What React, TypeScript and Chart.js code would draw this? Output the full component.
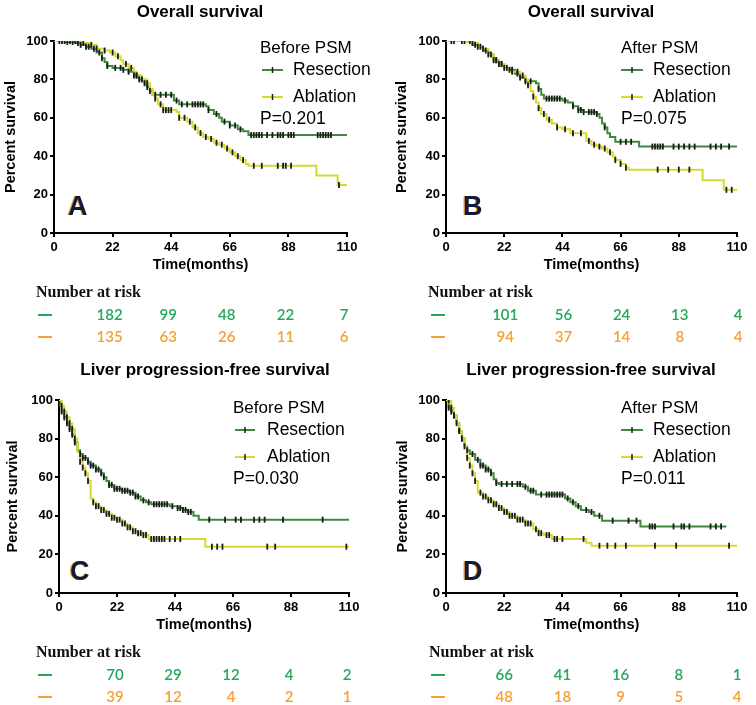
import React, { useEffect, useRef } from "react";
import { Chart, registerables } from "chart.js";
Chart.register(...registerables);

type Pt = [number, number];

// ---------- shared ----------
const timeTicks = [0, 22, 44, 66, 88, 110];
const riskTimes = [22, 44, 66, 88, 110];
const seriesNames = ["Resection", "Ablation"];

// ---------- Panel A : Overall survival, before PSM ----------
const A_title = "Overall survival";
const A_group = "Before PSM";
const A_p = "P=0.201";
const A_resection: Pt[] = [[0,100],[4,99.5],[8,99],[10,98],[12,97],[14,96],[16,94],[18,91],[19,89],[20,87],[22,86],[26,85],[28,84],[30,82],[32,80],[34,78],[35,76],[36,74],[37,72],[45,69],[47,67],[57,66],[58,64],[60,62],[62,60],[63,58],[66,56],[69,54],[71,53],[73,51],[110,51]];
const A_ablation: Pt[] = [[0,100],[8,100],[10,99],[13,98],[16,96],[19,95],[21,94],[23,92],[25,90],[26,88],[28,86],[30,84],[31,82],[33,80],[35,78],[36,75],[37,72],[38,70],[39,67],[41,64],[46,63],[47,60],[50,58],[52,55],[54,52],[56,50],[58,49],[60,47],[62,46],[64,44],[66,42],[68,40],[70,38],[72,36],[73,35],[98.5,30],[106.5,25],[110,25]];
const A_resCensor = [3,5,7,9,10,12,13,15,17,18,20,23,25,26,28,30,31,32,34,35,36,38,40,42,44,46,48,50,52,53,54,55,56,58,61,64,66,68,70,74,75,76,77,78,80,82,84,85,86,88,89,90,99,100,101,102,103,104];
const A_ablCensor = [2,4,6,8,11,14,16,19,22,24,27,29,31,33,35,38,40,41,42,43,44,47,49,51,53,55,57,59,61,63,65,67,69,71,75,78,84,86,87,89,107];
const A_riskRes = [182, 99, 48, 22, 7];
const A_riskAbl = [135, 63, 26, 11, 6];

// ---------- Panel B : Overall survival, after PSM ----------
const B_title = "Overall survival";
const B_group = "After PSM";
const B_p = "P=0.075";
const B_resection: Pt[] = [[0,100],[8,100],[10,98],[12,97],[14,95],[16,93],[18,90],[20,88],[22,86],[24,85],[26,83],[28,81],[30,79],[34,78],[35,75],[36,72],[37,70],[44,69],[46,68],[48,66],[50,64],[52,63],[57,62],[58,60],[59,57],[60,55],[61,52],[62,50],[64,47.5],[73,45],[110,45]];
const B_ablation: Pt[] = [[0,100],[8,99.5],[10,99],[12,97],[14,96],[16,93],[18,90],[20,88],[22,86],[25,84],[28,82],[30,80],[31,77],[32,74],[33,71],[34,68],[35,65],[36,62],[38,59],[40,57],[42,55],[44,54],[47,52],[53,48],[55,46],[57,45],[59,44],[61,42],[63,40],[64,38],[66,36],[68,34],[69,33],[97,27.5],[105,22.5],[110,22.5]];
const B_resCensor = [2,6,9,11,13,15,16,18,19,20,21,22,24,25,27,28,30,32,35,38,39,40,41,42,43,45,48,50,51,52,54,55,56,57,60,66,68,70,78,79,80,81,82,86,88,90,92,94,100,102,104,107];
const B_ablCensor = [3,7,10,12,14,17,19,21,23,25,27,29,31,33,35,37,39,42,45,48,51,54,56,58,60,62,64,66,68,80,84,88,92,106,108];
const B_riskRes = [101, 56, 24, 13, 4];
const B_riskAbl = [94, 37, 14, 8, 4];

// ---------- Panel C : Liver PFS, before PSM ----------
const C_title = "Liver progression-free survival";
const C_group = "Before PSM";
const C_p = "P=0.030";
const C_resection: Pt[] = [[0,100],[0.5,97],[1,94],[2,91],[3,88],[4,85],[5,82],[6,78],[7,74],[8,72],[9,70],[11,68],[12,66],[14,64],[16,62],[17,60],[18,58],[19,56],[21,54],[24,53],[27,52],[29,50],[31,48],[33,47],[35,46],[42,45],[45,44],[47,43],[49,42],[51,40],[53,38],[110,38]];
const C_ablation: Pt[] = [[0,100],[1,97],[2,94],[3,91],[4,88],[5,85],[6,80],[7,73],[8,68],[9,65],[10,62],[11,58],[12,49],[13,47],[14,45],[16,43],[18,41],[20,39],[22,38],[24,36],[26,34],[28,32],[30,31],[32,30],[34,28],[55.5,24],[110,24]];
const C_resCensor = [1,2,3,4,5,6,8,9,10,11,12,13,14,15,16,17,19,20,21,22,23,24,25,26,27,28,29,30,32,34,36,37,38,39,40,41,43,45,46,47,48,49,50,57,63,67,69,74,76,78,85,100];
const C_ablCensor = [1,2,3,4,5,6,8,9,10,11,13,14,15,16,17,18,19,20,21,22,23,24,25,26,27,28,29,30,31,32,33,35,36,37,38,39,40,42,44,46,58,60,62,79,82,109];
const C_riskRes = [70, 29, 12, 4, 2];
const C_riskAbl = [39, 12, 4, 2, 1];

// ---------- Panel D : Liver PFS, after PSM ----------
const D_title = "Liver progression-free survival";
const D_group = "After PSM";
const D_p = "P=0.011";
const D_resection: Pt[] = [[0,100],[1,96],[2,94],[3,92],[4,88],[5,84],[6,80],[7,76],[8,74],[9,72],[11,69],[13,66],[15,64],[17,62],[18,59],[19,57],[20,56.5],[29,55],[31,53],[34,51],[45,49],[47,47],[49,45],[51,43],[54,42],[56,40],[59,37.5],[73.5,34.5],[106,34.5]];
const D_ablation: Pt[] = [[0,100],[2,96],[3,92],[4,88],[5,84],[6,80],[7,76],[8,70],[9,66],[10,62],[11,58],[12,52],[14,50],[16,48],[18,46],[20,44],[22,42],[24,40],[27,38],[30,36],[33,33],[35,31],[37,30],[40,28],[53,26],[55,24.5],[110,24.5]];
const D_resCensor = [1,2,3,5,6,8,10,12,13,14,15,16,17,19,21,23,25,27,28,30,32,33,36,38,39,40,41,42,43,44,46,48,50,53,55,58,63,69,72,77,78,79,86,89,90,92,100,102,104];
const D_ablCensor = [1,2,3,4,5,6,7,8,9,10,11,13,14,15,16,17,18,19,20,21,22,23,24,25,26,27,28,29,30,31,32,34,35,36,38,39,41,42,44,52,58,61,64,68,79,87,107];
const D_riskRes = [66, 41, 16, 8, 1];
const D_riskAbl = [48, 18, 9, 5, 4];

// ---------- styling ----------
const GREEN = "#3e8a3a";
const YELLOW = "#d6da30";
const CENSOR = "#1b1b1b";
const RISK_GREEN = "#22a85a";
const RISK_ORANGE = "#f6a032";
const SANS = '"Liberation Sans", Arial, sans-serif';

type Layout = {
  left: number; top: number; w: number; h: number;
  area: { l: number; t: number; r: number; b: number };
  titleX: number; titleY: number;
  legX: number; lineX0: number; lineX1: number; legTextX: number;
  letter: string; letterX: number; letterY: number;
  yTitleX: number; riskX: number; dashX: number; riskShift: number;
};

type Panel = {
  title: string; group: string; p: string;
  res: Pt[]; abl: Pt[]; resC: number[]; ablC: number[];
  riskRes: number[]; riskAbl: number[]; layout: Layout;
};

const panels: Panel[] = [
  { title: A_title, group: A_group, p: A_p, res: A_resection, abl: A_ablation, resC: A_resCensor, ablC: A_ablCensor, riskRes: A_riskRes, riskAbl: A_riskAbl,
    layout: { left: 0, top: 0, w: 378, h: 360, area: { l: 54, t: 41, r: 347, b: 233 }, titleX: 200, titleY: 12, legX: 260, lineX0: 262, lineX1: 283, legTextX: 293, letter: "A", letterX: 68, letterY: 208, yTitleX: 11, riskX: 36, dashX: 38, riskShift: -3 } },
  { title: B_title, group: B_group, p: B_p, res: B_resection, abl: B_ablation, resC: B_resCensor, ablC: B_ablCensor, riskRes: B_riskRes, riskAbl: B_riskAbl,
    layout: { left: 378, top: 0, w: 378, h: 360, area: { l: 68, t: 41, r: 359, b: 233 }, titleX: 213, titleY: 12, legX: 243, lineX0: 243, lineX1: 265, legTextX: 275, letter: "B", letterX: 85, letterY: 208, yTitleX: 24, riskX: 50, dashX: 53, riskShift: 1 } },
  { title: C_title, group: C_group, p: C_p, res: C_resection, abl: C_ablation, resC: C_resCensor, ablC: C_ablCensor, riskRes: C_riskRes, riskAbl: C_riskAbl,
    layout: { left: 0, top: 360, w: 378, h: 345, area: { l: 59, t: 40, r: 349, b: 233 }, titleX: 205, titleY: 10, legX: 233, lineX0: 235, lineX1: 255, legTextX: 267, letter: "C", letterX: 70, letterY: 213, yTitleX: 13, riskX: 36, dashX: 38, riskShift: -2 } },
  { title: D_title, group: D_group, p: D_p, res: D_resection, abl: D_ablation, resC: D_resCensor, ablC: D_ablCensor, riskRes: D_riskRes, riskAbl: D_riskAbl,
    layout: { left: 378, top: 360, w: 378, h: 345, area: { l: 68, t: 40, r: 359, b: 233 }, titleX: 213, titleY: 10, legX: 243, lineX0: 243, lineX1: 265, legTextX: 275, letter: "D", letterX: 85, letterY: 213, yTitleX: 25, riskX: 51, dashX: 53, riskShift: 0 } },
];

function survivalAt(curve: Pt[], t: number): number {
  let s = curve[0][1];
  for (const [x, y] of curve) {
    if (x <= t) s = y;
    else break;
  }
  return s;
}

function makeTextPlugin(pn: Panel) {
  const L = pn.layout;
  return {
    id: "panelText" + L.letter,
    afterDraw(chart: any) {
      const ctx: CanvasRenderingContext2D = chart.ctx;
      const ca = chart.chartArea;
      const xs = chart.scales.x;
      ctx.save();
      ctx.fillStyle = "#000";
      ctx.textBaseline = "middle";
      // title
      ctx.font = `bold 17px ${SANS}`;
      ctx.textAlign = "center";
      ctx.fillText(pn.title, L.titleX, L.titleY);
      // axis titles
      ctx.font = `bold 14.5px ${SANS}`;
      ctx.fillText("Time(months)", (ca.left + ca.right) / 2, 265);
      ctx.save();
      ctx.translate(L.yTitleX, (ca.top + ca.bottom) / 2);
      ctx.rotate(-Math.PI / 2);
      ctx.fillText("Percent survival", 0, 0);
      ctx.restore();
      // legend
      ctx.textAlign = "left";
      ctx.font = `17px ${SANS}`;
      ctx.fillText(pn.group, L.legX, 48);
      const rows: [string, string, number][] = [
        [seriesNames[0], GREEN, 70],
        [seriesNames[1], YELLOW, 97],
      ];
      for (const [name, col, y] of rows) {
        ctx.strokeStyle = col;
        ctx.lineWidth = 2;
        ctx.beginPath();
        ctx.moveTo(L.lineX0, y);
        ctx.lineTo(L.lineX1, y);
        ctx.stroke();
        ctx.strokeStyle = CENSOR;
        ctx.lineWidth = 1.5;
        const mx = (L.lineX0 + L.lineX1) / 2;
        ctx.beginPath();
        ctx.moveTo(mx, y - 3);
        ctx.lineTo(mx, y + 3);
        ctx.stroke();
        ctx.fillStyle = "#000";
        ctx.font = `17.5px ${SANS}`;
        ctx.fillText(name, L.legTextX, y);
      }
      ctx.font = `17.5px ${SANS}`;
      ctx.fillText(pn.p, L.legX, 119);
      // panel letter
      ctx.font = `bold 27px ${SANS}`;
      ctx.fillStyle = "#f0a030";
      ctx.fillText(L.letter, L.letterX - 1.2, L.letterY);
      ctx.fillStyle = "#101a3c";
      ctx.fillText(L.letter, L.letterX, L.letterY);
      // risk table
      ctx.fillStyle = "#111";
      ctx.font = `bold 16px "Liberation Serif", "Times New Roman", serif`;
      ctx.fillText("Number at risk", L.riskX, 293);
      const riskRows: [number[], string, number][] = [
        [pn.riskRes, RISK_GREEN, 315],
        [pn.riskAbl, RISK_ORANGE, 337],
      ];
      ctx.textAlign = "center";
      for (const [vals, col, y] of riskRows) {
        ctx.fillStyle = col;
        ctx.fillRect(L.dashX, y - 1, 14, 2);
        ctx.font = `600 15px Lato, "Open Sans", sans-serif`;
        vals.forEach((v, i) => {
          const x = xs.getPixelForValue(riskTimes[i]) + L.riskShift;
          ctx.fillText(String(v), x, y);
        });
      }
      ctx.restore();
    },
  };
}

function PanelChart({ pn }: { pn: Panel }) {
  const ref = useRef<HTMLCanvasElement>(null);
  useEffect(() => {
    const L = pn.layout;
    const xAxisH = 47;
    const lineDs = (label: string, pts: Pt[], col: string) => ({
      type: "line" as const,
      label,
      data: pts.map(([x, y]) => ({ x, y })),
      borderColor: col,
      backgroundColor: col,
      borderWidth: 2,
      stepped: true,
      pointRadius: 0,
      fill: false,
      order: 2,
    });
    const censorDs = (label: string, times: number[], curve: Pt[]) => ({
      type: "scatter" as const,
      label,
      data: times.map((t) => ({ x: t, y: survivalAt(curve, t) })),
      showLine: false,
      pointStyle: "line",
      pointRotation: 90,
      pointRadius: 3,
      pointBorderWidth: 1.8,
      borderColor: CENSOR,
      backgroundColor: CENSOR,
      pointBorderColor: CENSOR,
      order: 1,
    });
    const tickFont = { family: SANS, size: 13, weight: "bold" as const };
    const chart = new Chart(ref.current!, {
      type: "line",
      data: {
        datasets: [
          censorDs("Resection censored", pn.resC, pn.res),
          censorDs("Ablation censored", pn.ablC, pn.abl),
          lineDs(seriesNames[1], pn.abl, YELLOW),
          lineDs(seriesNames[0], pn.res, GREEN),
        ] as any,
      },
      options: {
        animation: false,
        responsive: false,
        devicePixelRatio: 1,
        layout: {
          padding: { left: 0, top: L.area.t, right: L.w - L.area.r, bottom: L.h - L.area.b - xAxisH },
        },
        plugins: { legend: { display: false }, tooltip: { enabled: false }, title: { display: false } },
        scales: {
          x: {
            type: "linear",
            min: 0,
            max: 110,
            afterBuildTicks: (s: any) => { s.ticks = timeTicks.map((v) => ({ value: v })); },
            afterFit: (s: any) => { s.height = xAxisH; },
            ticks: { font: tickFont, color: "#000", padding: 3, maxRotation: 0, autoSkip: false },
            grid: { display: true, drawOnChartArea: false, drawTicks: true, tickLength: 4, color: "#000", lineWidth: 2 },
            border: { display: true, color: "#000", width: 2 },
          },
          y: {
            type: "linear",
            min: 0,
            max: 100,
            ticks: { stepSize: 20, font: tickFont, color: "#000", padding: 2 },
            afterFit: (s: any) => { s.width = L.area.l; },
            grid: { display: true, drawOnChartArea: false, drawTicks: true, tickLength: 4, color: "#000", lineWidth: 2 },
            border: { display: true, color: "#000", width: 2 },
          },
        },
      } as any,
      plugins: [makeTextPlugin(pn)],
    });
    return () => chart.destroy();
  }, [pn]);
  const L = pn.layout;
  return (
    <canvas
      ref={ref}
      width={L.w}
      height={L.h}
      style={{ position: "absolute", left: L.left, top: L.top, width: L.w, height: L.h }}
    />
  );
}

export default function App() {
  return (
    <div style={{ position: "absolute", left: 0, top: 0, width: 756, height: 705, background: "#fff", overflow: "hidden" }}>
      {panels.map((pn) => (
        <PanelChart key={pn.layout.letter} pn={pn} />
      ))}
    </div>
  );
}
